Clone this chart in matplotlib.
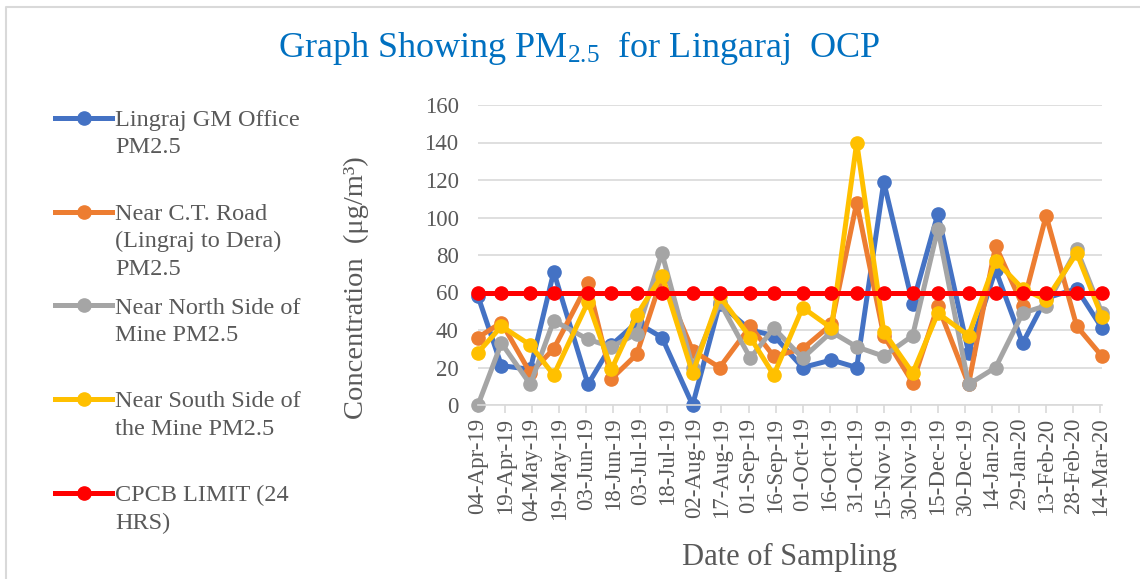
import matplotlib
matplotlib.use("Agg")
import matplotlib.pyplot as plt
import matplotlib.dates as mdates
from matplotlib.lines import Line2D
import pandas as pd

plt.rcParams['font.family'] = ['Liberation Serif', 'DejaVu Serif']
plt.rcParams['mathtext.fontset'] = 'custom'
plt.rcParams['mathtext.rm'] = 'Liberation Serif'
plt.rcParams['mathtext.it'] = 'Liberation Serif:italic'

# sampling dates
dates = ["2019-04-04", "2019-04-17", "2019-05-03", "2019-05-16", "2019-06-04", "2019-06-17",
         "2019-07-01", "2019-07-15", "2019-08-01", "2019-08-16", "2019-09-02", "2019-09-15",
         "2019-10-01", "2019-10-17", "2019-10-31", "2019-11-15", "2019-12-01", "2019-12-15",
         "2020-01-01", "2020-01-16", "2020-01-31", "2020-02-13", "2020-03-01", "2020-03-15"]

gm_office = [58, 21, 19, 71, 11, 32, 44, 36, 0, 54, 40, 37,
             20, 24, 20, 119, 54, 102, 28, 72, 33, 57, 62, 41]
ct_road = [36, 44, 17, 30, 65, 14, 27, 68, 29, 20, 42, 26,
           30, 43, 108, 37, 12, 53, 11, 85, 53, 101, 42, 26]
north_side = [0, 33, 11, 45, 35, 31, 38, 81, 20, 55, 25, 41,
              25, 39, 31, 26, 37, 94, 11, 20, 49, 53, 83, 49]
south_side = [28, 42, 32, 16, 55, 19, 48, 69, 17, 58, 36, 16,
              52, 41, 140, 39, 17, 49, 37, 77, 62, 56, 81, 47]
cpcb_limit = [60] * 24

labels = ["Lingraj GM Office\nPM2.5",
          "Near C.T. Road\n(Lingraj to Dera)\nPM2.5",
          "Near North Side of\nMine PM2.5",
          "Near South Side of\nthe Mine PM2.5",
          "CPCB LIMIT (24\nHRS)"]
colors = ["#4472C4", "#ED7D31", "#A5A5A5", "#FFC000", "#FF0000"]

x = pd.to_datetime(dates)
series = [gm_office, ct_road, north_side, south_side, cpcb_limit]

fig = plt.figure(figsize=(11.4, 5.79), dpi=100)
ax = fig.add_axes([478/1140, 1 - 405/579, 624/1140, 300/579])

for vals, c in zip(series, colors):
    ax.plot(x, vals, color=c, lw=3.6, marker='o', ms=9.5, solid_joinstyle='round',
            clip_on=False)

txt = '#595959'
ax.set_ylim(0, 160)
ax.set_yticks(range(0, 161, 20))
ax.set_xlim(x[0], x[-1])
ax.set_xticks(pd.date_range("2019-04-04", "2020-03-14", freq="15D"))
ax.xaxis.set_major_formatter(mdates.DateFormatter('%d-%b-%y'))
ax.tick_params(axis='x', rotation=90, labelsize=16.5, colors='#D9D9D9', labelcolor=txt,
               length=6, width=1.2, pad=3)
ax.tick_params(axis='y', length=0, labelsize=16.5, labelcolor=txt, pad=14)
ax.grid(axis='y', color='#D9D9D9', lw=1.2)
ax.set_axisbelow(True)
for s in ['top', 'right', 'left']:
    ax.spines[s].set_visible(False)
ax.spines['bottom'].set_color('#D9D9D9')
ax.spines['bottom'].set_linewidth(1.2)

ax.set_ylabel("Concentration  (\u03bcg/m\u00b3)", fontsize=20.5, color=txt)
ax.yaxis.set_label_coords(-0.174, 0.39)
ax.set_xlabel("Date of Sampling", fontsize=22, color=txt, labelpad=16)

fig.text(0.508, 1 - 48/579, "Graph Showing PM$_{\\mathrm{2.5}}$  for Lingaraj  OCP",
         fontsize=26, color='#0070C0', ha='center', va='center')

# legend drawn by hand, Excel style
for i, (lab, c) in enumerate(zip(labels, colors)):
    yy = 1 - (118 + i * 93.75) / 579
    fig.add_artist(Line2D([55/1140, 112/1140], [yy, yy], color=c, lw=3.6,
                          transform=fig.transFigure))
    fig.add_artist(Line2D([84/1140], [yy], color=c, marker='o', ms=9.5,
                          transform=fig.transFigure))
    fig.text(115/1140, yy + 8/579, lab, fontsize=17.5, color=txt, va='top', ha='left',
             linespacing=1.4)

# chart area border
fig.add_artist(Line2D([6/1140, 6/1140, 1], [0, 1 - 7/579, 1 - 7/579], color='#D9D9D9',
                      lw=1.5, transform=fig.transFigure))

fig.savefig("out.png", dpi=100)
